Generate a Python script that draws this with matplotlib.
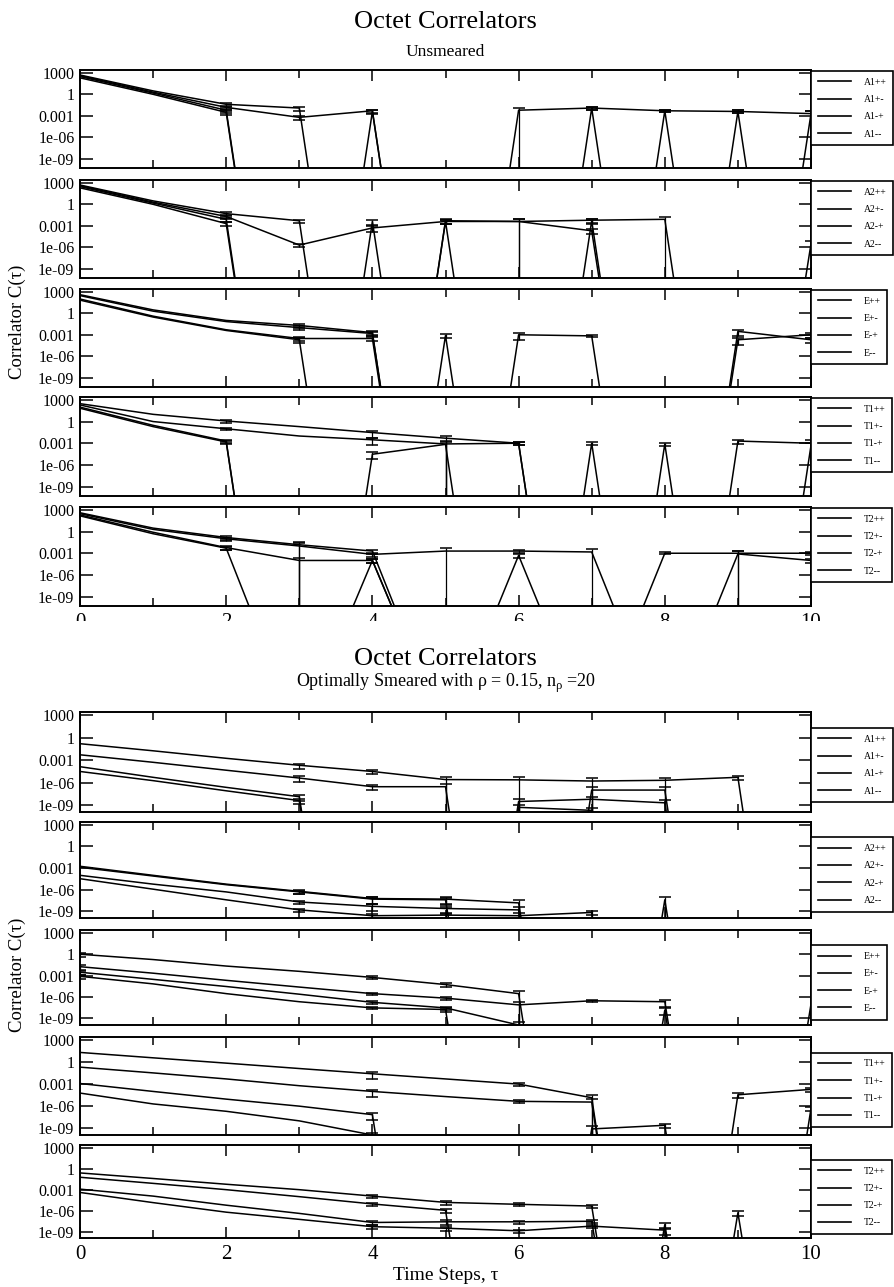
import numpy as np
import matplotlib
matplotlib.use("Agg")
import matplotlib.pyplot as plt
from matplotlib.lines import Line2D
from matplotlib.patches import Rectangle
from matplotlib.ticker import NullLocator, FixedLocator

plt.rcParams["font.family"] = ["Liberation Serif", "DejaVu Serif"]
plt.rcParams["mathtext.fontset"] = "custom"
plt.rcParams["mathtext.rm"] = "Liberation Serif"

N = 1e-70   # negative correlator value (falls below the log axis)
W = 1e-28   # negative value, shallower drop (as drawn in the T2 unsmeared panel)
nan = np.nan

tau = list(range(11))
channels = ["A1", "A2", "E", "T1", "T2"]
parities = ["++", "+-", "-+", "--"]
ytick_vals = [1e3, 1, 1e-3, 1e-6, 1e-9]
ytick_labels = ["1000", "1", "0.001", "1e-06", "1e-09"]

# ---------------- Unsmeared ----------------
U_A1 = [[500, 3, 0.04, 0.012, N, N, 0.006, 0.012, 0.005, 0.004, 0.002],
        [400, 2, 0.015, 0.0006, 0.005, N, N, 0.012, N, 0.004, N],
        [300, 1.5, 0.006, N, 0.004, N, N, N, 0.005, N, 0.002],
        [200, 1, 0.003, N, N, N, N, N, N, N, N]]
U_A1_err = [nan, nan, 0.6, 0.6, 0.5, nan, 1.3, 0.4, 0.4, 0.4, 1.5]

U_A2 = [[500, 3, 0.05, 0.005, N, 0.005, 0.004, 0.006, 0.008, N, N],
        [400, 2, 0.02, 2e-6, 0.0005, 0.004, 0.004, 0.0002, N, N, 3e-6],
        [300, 1.5, 0.008, N, 0.004, N, N, 0.005, N, N, N],
        [200, 1, 0.002, N, N, 0.004, N, N, N, N, N]]
U_A2_err = [nan, nan, 0.6, 0.5, 0.7, 0.6, 1.3, 0.6, 1.3, nan, 1.5]

U_E = [[400, 3, 0.1, 0.02, 0.002, N, N, N, N, 0.003, 0.0002],
       [300, 2, 0.07, 0.01, 0.0015, N, 0.001, 0.0007, N, 0.0002, 0.001],
       [100, 0.4, 0.005, 0.0003, 0.0003, N, N, N, N, N, N],
       [70, 0.3, 0.004, 0.0002, N, 0.0008, N, N, N, N, N]]
U_E_err = [nan, nan, nan, 0.6, 0.6, 0.5, 0.8, 0.4, nan, 0.8, 0.6]

U_T1 = [[300, 10, 1.2, 0.2, 0.03, 0.005, 0.001, N, 0.0008, N, 0.0005],
        [200, 1, 0.1, 0.01, 0.003, 0.0008, 0.001, N, N, 0.002, 0.001],
        [100, 0.3, 0.002, N, 3e-5, 0.0007, N, 0.001, N, N, N],
        [70, 0.2, 0.0015, N, N, N, N, N, N, N, N]]
U_T1_err = [nan, nan, 0.4, nan, 0.8, 1.3, 0.5, 0.4, 0.4, 0.6, 1.5]

U_T2 = [[400, 3, 0.15, 0.015, 0.002, W, W, W, W, W, W],
        [300, 2, 0.1, 0.01, 0.0007, 0.002, 0.002, 0.0015, W, W, W],
        [200, 0.8, 0.006, 1e-4, 1e-4, W, 5e-4, W, 0.001, 0.001, 0.001],
        [150, 0.5, 0.005, W, 1e-4, W, W, W, W, 0.0008, 1e-4]]
U_T2_err = [nan, nan, 0.5, 1.3, 0.6, 1.3, 0.5, 1.3, 0.3, 1.3, 0.5]

# ---------------- Optimally smeared ----------------
S_A1 = [[0.15, 0.017, 0.0017, 2e-4, 3e-5, 2.5e-6, 2.3e-6, 1.6e-6, 2e-6, 5e-6, N],
        [0.005, 5e-4, 4.4e-5, 4e-6, 2.8e-7, 2.8e-7, N, 1e-7, 1e-7, N, N],
        [1.3e-4, 5e-6, 2.3e-7, 1.3e-8, N, N, 3e-9, 6e-9, 2e-9, N, N],
        [3e-5, 1.8e-6, 8e-8, 4e-9, N, N, 5e-10, 2e-10, N, N, N]]
S_A1_err = [nan, nan, nan, 0.7, 0.6, 1.2, 1.2, 1.2, 1.2, 0.6, nan]

S_A2 = [[0.0018, 1e-4, 6e-6, 6e-7, 6e-8, 5e-8, 1.5e-8, N, N, N, N],
        [0.0013, 8e-5, 5e-6, 5e-7, 5e-8, 4e-8, N, N, 4e-8, N, N],
        [1e-4, 6e-6, 5e-7, 2e-8, 5e-9, 2.5e-9, 1.6e-9, N, N, N, N],
        [3.4e-5, 1.2e-6, 4e-8, 1.6e-9, 2.5e-10, 3e-10, 2.5e-10, 7e-10, N, N, N]]
S_A2_err = [nan, nan, nan, 0.5, 0.8, 0.8, 1.3, 0.6, 1.5, nan, nan]

S_E = [[1, 0.18, 0.022, 0.004, 5.6e-4, 5.6e-5, 3e-6, N, N, N, 1e-7],
       [0.018, 0.0022, 2.2e-4, 2.5e-5, 3e-6, 7e-7, 8e-8, 3e-7, 2.2e-7, N, N],
       [0.003, 3e-4, 3e-5, 2.5e-6, 1.8e-7, 3e-8, 1.2e-10, N, N, N, N],
       [8e-4, 7e-5, 3e-6, 2.2e-7, 3e-8, 1.8e-8, N, N, 1.5e-8, N, N]]
S_E_err = [0.6, nan, nan, nan, 0.4, 0.5, 1.5, 0.4, 0.8, nan, nan]

S_T1 = [[20, 3.7, 0.7, 0.13, 0.025, 0.005, 0.001, 1.4e-5, N, N, N],
        [0.2, 0.033, 0.005, 6e-4, 1e-4, 2e-5, 4.5e-6, 3.6e-6, N, 3.5e-5, 1.9e-4],
        [0.0012, 1e-4, 9e-6, 1e-6, 7e-8, N, N, 8e-10, 2.5e-9, N, N],
        [6e-5, 2e-6, 2e-7, 1e-8, 1.2e-10, N, N, N, N, N, 5e-7]]
S_T1_err = [nan, nan, nan, nan, 0.8, nan, 0.4, 1.5, 0.5, 0.6, 0.6]

S_T2 = [[0.25, 0.04, 0.006, 0.001, 1.2e-4, 1.5e-5, 8e-6, 4.5e-6, N, N, N],
        [0.06, 0.008, 0.001, 1e-4, 9e-6, 1.1e-6, N, N, 1e-8, N, N],
        [0.0012, 1.2e-4, 6e-6, 4e-7, 2e-8, 2.5e-8, 2.5e-8, 3e-8, N, 5e-7, N],
        [4e-4, 1.4e-5, 6e-7, 5.6e-8, 5e-9, 3e-9, 1.3e-9, 6e-9, 1.6e-9, N, 2e-10]]
S_T2_err = [nan, nan, nan, nan, 0.5, 0.6, 0.5, 0.5, 0.8, 0.6, nan]

unsmeared = [(U_A1, U_A1_err), (U_A2, U_A2_err), (U_E, U_E_err), (U_T1, U_T1_err), (U_T2, U_T2_err)]
smeared = [(S_A1, S_A1_err), (S_A2, S_A2_err), (S_E, S_E_err), (S_T1, S_T1_err), (S_T2, S_T2_err)]

FW, FH = 894, 1287
fig = plt.figure(figsize=(FW / 100, FH / 100), dpi=100)

LEFT, RIGHT = 80, 811
top_rows = [(70, 168), (180, 278), (289, 387), (397, 496), (507, 606)]
bot_rows = [(712, 812), (822, 918), (930, 1025), (1037, 1135), (1145, 1238)]


def make_panel(rect, data, err, chan, ylim, show_xlabels, leg_top):
    t, b = rect
    ax = fig.add_axes([LEFT / FW, 1 - b / FH, (RIGHT - LEFT) / FW, (b - t) / FH])
    ax.set_yscale("log", nonpositive="clip")
    ax.set_xlim(0, 10)
    ax.set_ylim(*ylim)
    e = np.array(err, dtype=float)
    for series in data:
        y = np.array(series, dtype=float)
        ye = y * e
        ax.errorbar(tau, y, yerr=[ye, ye], color="black", lw=1.1,
                    elinewidth=0.9, capsize=4, capthick=1.1)
    ax.yaxis.set_major_locator(FixedLocator(ytick_vals))
    ax.set_yticklabels(ytick_labels)
    ax.yaxis.set_minor_locator(NullLocator())
    ax.set_xticks(range(0, 11, 2))
    ax.xaxis.set_minor_locator(FixedLocator(range(1, 11, 2)))
    ax.tick_params(axis="both", which="both", direction="in", top=True, right=True,
                   width=1.1)
    ax.tick_params(axis="y", which="major", length=9, labelsize=11.5, pad=4)
    ax.tick_params(axis="x", which="major", length=8, labelsize=15, pad=5)
    ax.tick_params(axis="x", which="minor", length=6)
    if not show_xlabels:
        ax.set_xticklabels([])
    for s in ax.spines.values():
        s.set_linewidth(1.4)
    handles = [Line2D([0], [0], color="black", lw=1.2) for _ in parities]
    labels = [chan + p for p in parities]
    leg = ax.legend(handles, labels, loc="upper left", bbox_to_anchor=(1.0, leg_top),
                    borderaxespad=0, fontsize=7, handlelength=3.4,
                    handletextpad=1.3, labelspacing=0.85, borderpad=0.7,
                    frameon=True, fancybox=False, edgecolor="black", framealpha=1)
    leg.get_frame().set_linewidth(1.2)
    return ax


for i, ((data, err), chan) in enumerate(zip(unsmeared, channels)):
    make_panel(top_rows[i], data, err, chan, (5e-11, 2.5e3), i == 4, 0.99)

for i, ((data, err), chan) in enumerate(zip(smeared, channels)):
    ax = make_panel(bot_rows[i], data, err, chan, (1.2e-10, 2.5e3), i == 4, 0.84)
    if i == 4:
        ax.set_xlabel("Time Steps, τ", fontsize=14, labelpad=2)

# the upper figure is cut just below its tick labels
fig.add_artist(Rectangle((0, 1 - 640 / FH), 1, 19 / FH, transform=fig.transFigure,
                         facecolor="white", edgecolor="none", zorder=20))

cx = (LEFT + RIGHT) / 2 / FW
fig.text(cx, 1 - 22 / FH, "Octet Correlators", ha="center", va="center", fontsize=19)
fig.text(cx, 1 - 52 / FH, "Unsmeared", ha="center", va="center", fontsize=12.5)
fig.text(cx, 1 - 659 / FH, "Octet Correlators", ha="center", va="center", fontsize=19)
fig.text(cx, 1 - 683 / FH, r"Optimally Smeared with ρ = 0.15, n$_\mathrm{ρ}$ =20",
         ha="center", va="center", fontsize=13)
fig.text(17 / FW, 1 - 322 / FH, "Correlator C(τ)", rotation=90,
         ha="center", va="center", fontsize=13.5)
fig.text(17 / FW, 1 - 975 / FH, "Correlator C(τ)", rotation=90,
         ha="center", va="center", fontsize=13.5)

fig.savefig("out.png", dpi=100)
